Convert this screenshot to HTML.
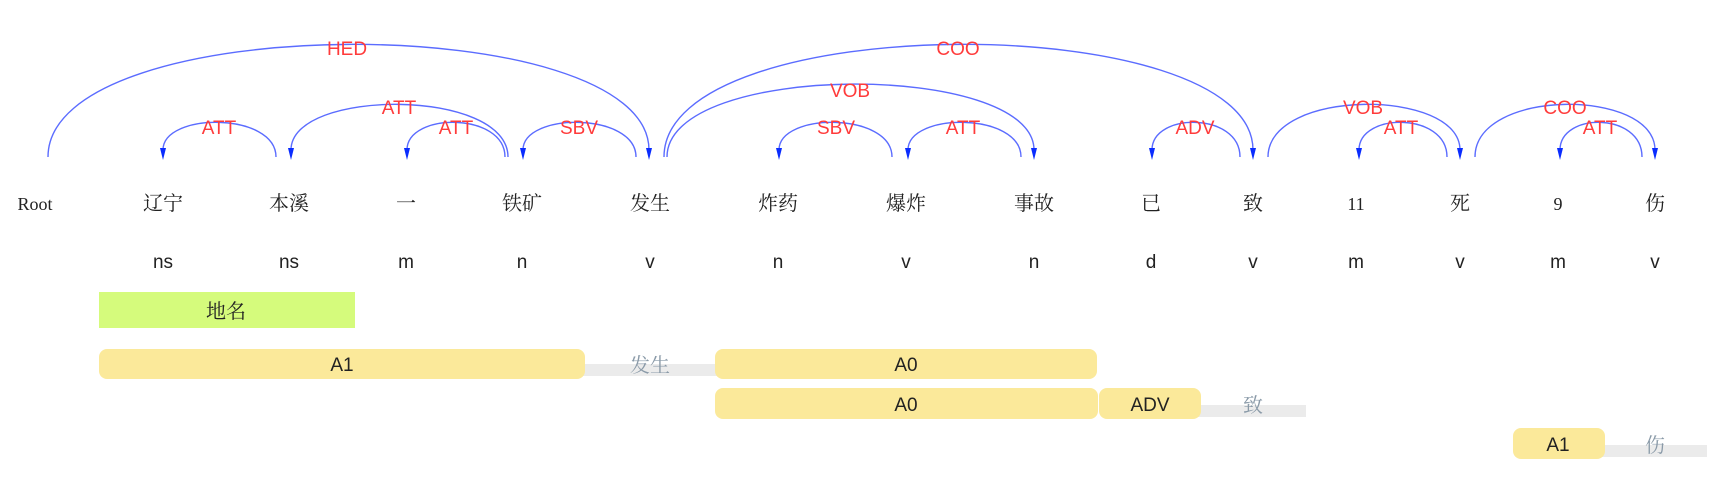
<!DOCTYPE html>
<html><head><meta charset="utf-8"><style>
html,body{margin:0;padding:0;background:#fff;}
svg{display:block;}
.w{font-family:"Liberation Serif","Noto Serif CJK SC",serif;font-size:20px;fill:#222;text-anchor:middle;}
.p{font-family:"Liberation Sans",sans-serif;font-size:19px;fill:#222;text-anchor:middle;}
.l{font-family:"Liberation Sans",sans-serif;font-size:19px;fill:#ff3b3b;text-anchor:middle;}
.a{fill:none;stroke:#5b6cff;stroke-width:1.4;}
.h{fill:#0a2cff;}
.b{font-family:"Liberation Sans",sans-serif;font-size:19px;fill:#222;text-anchor:middle;}
.g{font-family:"Liberation Serif","Noto Serif CJK SC",serif;font-size:20px;fill:#8a9aa8;text-anchor:middle;}
</style></head><body>
<svg width="1724" height="488" viewBox="0 0 1724 488" xmlns="http://www.w3.org/2000/svg">
<!-- arcs: tail x1, head x2, control y -->
<path class="a" d="M48 157 C48 8 649 8 649 150"/>
<path class="a" d="M276 157 C276 112 163 112 163 150"/>
<path class="a" d="M508 157 C508 88 291 88 291 150"/>
<path class="a" d="M505 157 C505 112 407 112 407 150"/>
<path class="a" d="M636 157 C636 112 523 112 523 150"/>
<path class="a" d="M664 157 C664 8 1253 8 1253 150"/>
<path class="a" d="M667 157 C667 61 1034 61 1034 150"/>
<path class="a" d="M892 157 C892 112 779 112 779 150"/>
<path class="a" d="M1021 157 C1021 112 908 112 908 150"/>
<path class="a" d="M1240 157 C1240 112 1152 112 1152 150"/>
<path class="a" d="M1268 157 C1268 88 1460 88 1460 150"/>
<path class="a" d="M1447 157 C1447 112 1359 112 1359 150"/>
<path class="a" d="M1475 157 C1475 88 1655 88 1655 150"/>
<path class="a" d="M1642 157 C1642 112 1560 112 1560 150"/>
<g class="h">
<polygon points="646,148 652,148 649,160"/>
<polygon points="160,148 166,148 163,160"/>
<polygon points="288,148 294,148 291,160"/>
<polygon points="404,148 410,148 407,160"/>
<polygon points="520,148 526,148 523,160"/>
<polygon points="1250,148 1256,148 1253,160"/>
<polygon points="1031,148 1037,148 1034,160"/>
<polygon points="776,148 782,148 779,160"/>
<polygon points="905,148 911,148 908,160"/>
<polygon points="1149,148 1155,148 1152,160"/>
<polygon points="1457,148 1463,148 1460,160"/>
<polygon points="1356,148 1362,148 1359,160"/>
<polygon points="1652,148 1658,148 1655,160"/>
<polygon points="1557,148 1563,148 1560,160"/>
</g>
<g class="l">
<text x="347" y="55">HED</text>
<text x="219" y="134">ATT</text>
<text x="399" y="114">ATT</text>
<text x="456" y="134">ATT</text>
<text x="579" y="134">SBV</text>
<text x="958" y="55">COO</text>
<text x="850" y="97">VOB</text>
<text x="836" y="134">SBV</text>
<text x="963" y="134">ATT</text>
<text x="1195" y="134">ADV</text>
<text x="1363" y="114">VOB</text>
<text x="1401" y="134">ATT</text>
<text x="1565" y="114">COO</text>
<text x="1600" y="134">ATT</text>
</g>
<g class="w">
<text x="35" y="210" style="font-size:18px">Root</text>
<text x="163" y="210">辽宁</text>
<text x="289" y="210">本溪</text>
<text x="406" y="210">一</text>
<text x="522" y="210">铁矿</text>
<text x="650" y="210">发生</text>
<text x="778" y="210">炸药</text>
<text x="906" y="210">爆炸</text>
<text x="1034" y="210">事故</text>
<text x="1151" y="210">已</text>
<text x="1253" y="210">致</text>
<text x="1356" y="210" style="font-size:18px">11</text>
<text x="1460" y="210">死</text>
<text x="1558" y="210" style="font-size:18px">9</text>
<text x="1655" y="210">伤</text>
</g>
<g class="p">
<text x="163" y="268">ns</text>
<text x="289" y="268">ns</text>
<text x="406" y="268">m</text>
<text x="522" y="268">n</text>
<text x="650" y="268">v</text>
<text x="778" y="268">n</text>
<text x="906" y="268">v</text>
<text x="1034" y="268">n</text>
<text x="1151" y="268">d</text>
<text x="1253" y="268">v</text>
<text x="1356" y="268">m</text>
<text x="1460" y="268">v</text>
<text x="1558" y="268">m</text>
<text x="1655" y="268">v</text>
</g>
<rect x="99" y="292" width="256" height="36" fill="#d5fb7c"/>
<text class="w" x="226" y="318">地名</text>
<!-- row 1 -->
<rect x="580" y="364" width="140" height="12" fill="#ebebeb"/>
<rect x="99" y="349" width="486" height="30" rx="8" fill="#fbe99a"/>
<text class="b" x="342" y="371">A1</text>
<text class="g" x="650" y="372">发生</text>
<rect x="715" y="349" width="382" height="30" rx="8" fill="#fbe99a"/>
<text class="b" x="906" y="371">A0</text>
<!-- row 2 -->
<rect x="1195" y="405" width="111" height="12" fill="#ebebeb"/>
<rect x="715" y="388" width="383" height="31" rx="8" fill="#fbe99a"/>
<text class="b" x="906" y="411">A0</text>
<rect x="1099" y="388" width="102" height="31" rx="8" fill="#fbe99a"/>
<text class="b" x="1150" y="411">ADV</text>
<text class="g" x="1253" y="412">致</text>
<!-- row 3 -->
<rect x="1600" y="445" width="107" height="12" fill="#ebebeb"/>
<rect x="1513" y="428" width="92" height="31" rx="8" fill="#fbe99a"/>
<text class="b" x="1558" y="451">A1</text>
<text class="g" x="1655" y="452">伤</text>
</svg>
</body></html>
